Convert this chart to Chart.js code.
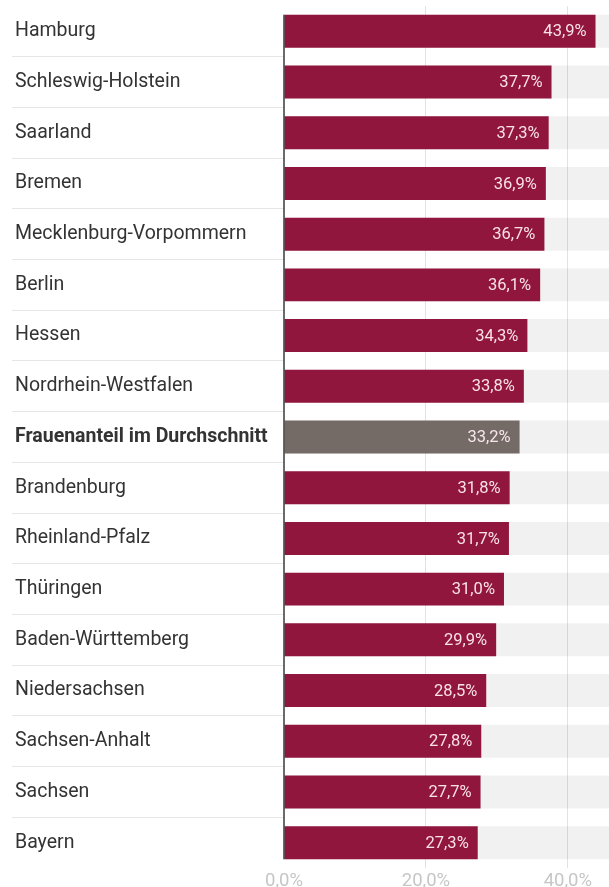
<!DOCTYPE html>
<html lang="de">
<head>
<meta charset="utf-8">
<script src="https://cdn.jsdelivr.net/npm/chart.js@4.4.1/dist/chart.umd.min.js"></script>
<style>
    html, body { margin: 0; padding: 0; background: #fff; }
    #wrap { width: 609px; height: 887px; position: relative; }
</style>
</head>
<body>
<div id="wrap"><canvas id="chart"></canvas></div>
<script>
// Frauenanteil nach Bundesland
const laender = [
    'Hamburg', 'Schleswig-Holstein', 'Saarland', 'Bremen', 'Mecklenburg-Vorpommern',
    'Berlin', 'Hessen', 'Nordrhein-Westfalen', 'Frauenanteil im Durchschnitt',
    'Brandenburg', 'Rheinland-Pfalz', 'Thüringen', 'Baden-Württemberg',
    'Niedersachsen', 'Sachsen-Anhalt', 'Sachsen', 'Bayern'
];
const anteil = [43.9, 37.7, 37.3, 36.9, 36.7, 36.1, 34.3, 33.8, 33.2, 31.8, 31.7, 31.0, 29.9, 28.5, 27.8, 27.7, 27.3];
const durchschnittLabel = 'Frauenanteil im Durchschnitt';
const xTicks = [0, 20, 40];
const xMax = 45.8;

const fmt = v => v.toFixed(1).replace('.', ',') + '%';

const barExtras = {
    id: 'barExtras',
    afterDatasetsDraw(chart) {
        const ctx = chart.ctx;
        const meta = chart.getDatasetMeta(1);
        const x0 = chart.scales.x.getPixelForValue(0);
        const first = meta.data[0];
        const last = meta.data[meta.data.length - 1];
        ctx.save();
        // axis line at 0
        ctx.strokeStyle = '#3a3a3a';
        ctx.lineWidth = 1.5;
        ctx.beginPath();
        ctx.moveTo(x0, first.y - first.height / 2);
        ctx.lineTo(x0, last.y + last.height / 2);
        ctx.stroke();
        // value labels inside bars
        ctx.font = '16.5px Roboto';
        ctx.fillStyle = 'rgba(255,236,242,0.95)';
        ctx.textAlign = 'right';
        ctx.textBaseline = 'middle';
        meta.data.forEach((bar, i) => ctx.fillText(fmt(anteil[i]), bar.x - 9, bar.y + 1));
        ctx.restore();
    }
};

new Chart(document.getElementById('chart'), {
    type: 'bar',
    data: {
        labels: laender,
        datasets: [{
            data: laender.map(() => xMax),
            backgroundColor: 'rgba(0,0,0,0.055)',
            grouped: false,
            order: 2,
            categoryPercentage: 0.65,
            barPercentage: 1
        }, {
            data: anteil,
            backgroundColor: laender.map(l => l === durchschnittLabel ? '#746a66' : '#91163d'),
            grouped: false,
            order: 1,
            categoryPercentage: 0.65,
            barPercentage: 1
        }]
    },
    options: {
        indexAxis: 'y',
        responsive: true,
        maintainAspectRatio: false,
        animation: false,
        layout: { padding: { top: 6, left: 15, right: 0, bottom: 0 } },
        plugins: {
            legend: { display: false },
            tooltip: { enabled: false }
        },
        scales: {
            x: {
                min: 0,
                max: xMax,
                afterBuildTicks: scale => { scale.ticks = xTicks.map(v => ({ value: v })); },
                afterFit: scale => { scale.height = 19; },
                grid: {
                    drawTicks: false,
                    color: ctx => ctx.tick && ctx.tick.value === 0 ? 'rgba(0,0,0,0)' : '#e2e2e2'
                },
                border: { display: false },
                ticks: {
                    padding: 2,
                    color: '#c6c6c6',
                    font: { family: 'Roboto', size: 18.5 },
                    callback: v => fmt(v)
                }
            },
            y: {
                grid: {
                    drawOnChartArea: false,
                    tickLength: 272,
                    color: ctx => (ctx.type !== 'tick' || ctx.index === 0) ? 'rgba(0,0,0,0)' : '#e6e6e6'
                },
                border: { display: false },
                afterFit: scale => {
                    scale.width = 269;
                    scale.paddingTop = 0;
                    scale.paddingBottom = 0;
                },
                ticks: {
                    crossAlign: 'far',
                    color: '#333',
                    font: ctx => ({
                        family: 'Roboto',
                        size: 19.5,
                        weight: laender[ctx.index] === durchschnittLabel ? 'bold' : 'normal'
                    })
                }
            }
        }
    },
    plugins: [barExtras]
});
</script>
</body>
</html>
